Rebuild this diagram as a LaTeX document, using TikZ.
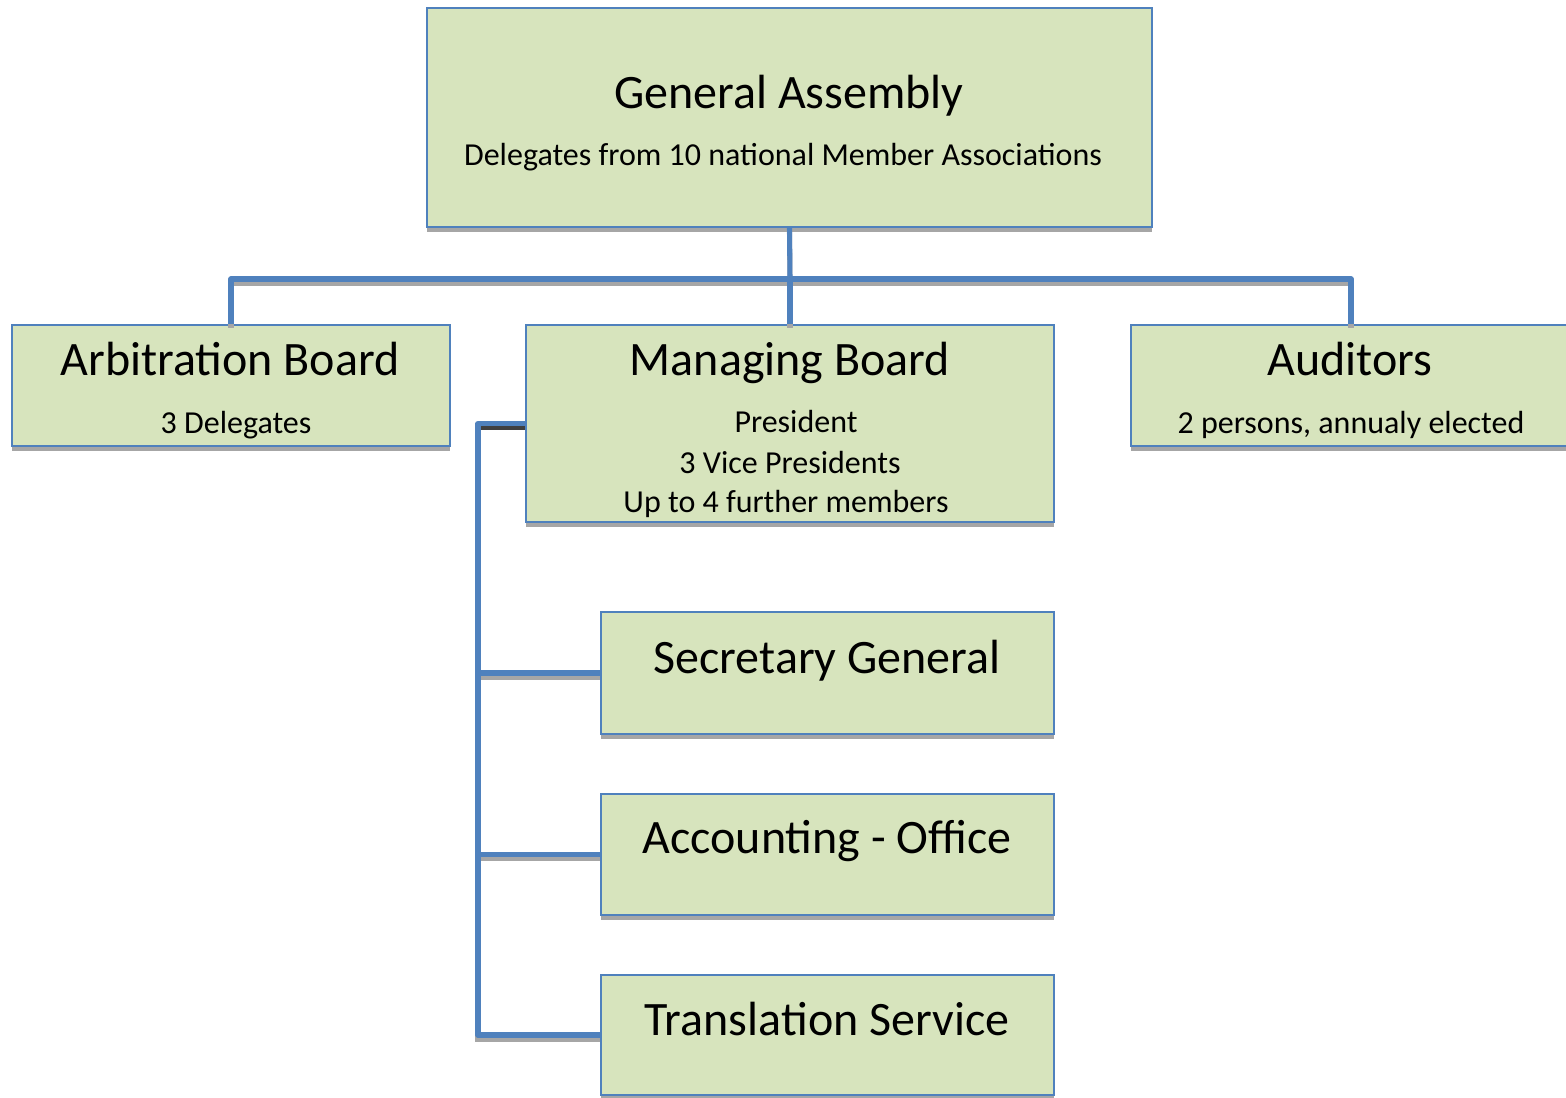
\documentclass[tikz,border=0pt]{standalone}
\usepackage{fontspec}
\setmainfont{Carlito}
\usetikzlibrary{fit,shadows}
\definecolor{boxfill}{HTML}{D7E4BD}
\definecolor{boxline}{HTML}{4F81BD}
\definecolor{shadowgray}{HTML}{A6A6A6}
\tikzset{
  box/.style={draw=boxline, line width=1.6pt, fill=boxfill, inner sep=0pt,
    drop shadow={shadow xshift=0pt, shadow yshift=-3.5pt, fill=shadowgray, opacity=1}},
  ttl/.style={anchor=base, font=\fontsize{36}{40}\selectfont, inner sep=0pt},
  sub/.style={anchor=base, font=\fontsize{24}{28}\selectfont, inner sep=0pt},
  conn/.style={draw=boxline, line width=3.8pt},
  connshadow/.style={draw=shadowgray, line width=3.8pt},
}
\begin{document}
\begin{tikzpicture}[x=0.75pt,y=-0.75pt]
\useasboundingbox (0,0) rectangle (1566,1097);
% boxes
\node[box, fit={(427,8) (1152,227)}] (ga) {};
\node[box, fit={(12,325) (450,446)}] (ab) {};
\node[box, fit={(526,325) (1054,522)}] (mb) {};
\node[box, fit={(1131,325) (1571,446)}] (au) {};
\node[box, fit={(601,612) (1054,734)}] (sg) {};
\node[box, fit={(601,794) (1054,915)}] (ac) {};
\node[box, fit={(601,975) (1054,1095)}] (tr) {};
% connectors
\coordinate (j) at (790,279);
\coordinate (k) at (478,1035);
\begin{scope}[transform canvas={yshift=-3pt}]
\draw[connshadow] (ga.south) -- (j);
\draw[connshadow] (ab.north) |- (j) -| (au.north);
\draw[connshadow] (j) -- (mb.north);
\draw[draw=black!75, line width=3.8pt] (mb.west) -- (mb.west -| k);
\draw[connshadow] (mb.west -| k) -- (k) -- (tr.west);
\draw[connshadow] (sg.west -| k) -- (sg.west);
\draw[connshadow] (ac.west -| k) -- (ac.west);
\end{scope}
\draw[conn] (ga.south) -- (j);
\draw[conn, line join=round] (ab.north) |- (j) -| (au.north);
\draw[conn] (j) -- (mb.north);
\draw[conn, line join=round] (mb.west) -| (k) -- (tr.west);
\draw[conn] (sg.west -| k) -- (sg.west);
\draw[conn] (ac.west -| k) -- (ac.west);
% texts
\node[ttl] (gat) at (789,108) {General Assembly};
\node[sub] (gas) at (783,165) {Delegates from 10 national Member Associations};
\node[ttl] (abt) at (230,375) {Arbitration Board};
\node[sub] (abs) at (236,433) {3 Delegates};
\node[ttl] (mbt) at (790,375) {Managing Board};
\node[sub] (mb1) at (796,432) {President};
\node[sub] (mb2) at (790,473) {3 Vice Presidents};
\node[sub] (mb3) at (786,512) {Up to 4 further members};
\node[ttl] (aut) at (1350,375) {Auditors};
\node[sub] (aus) at (1351,433) {2 persons, annualy elected};
\node[ttl] (sgt) at (827,673) {Secretary General};
\node[ttl] (act) at (827,853) {Accounting - Office};
\node[ttl] (trt) at (827,1035) {Translation Service};
\end{tikzpicture}
\end{document}
